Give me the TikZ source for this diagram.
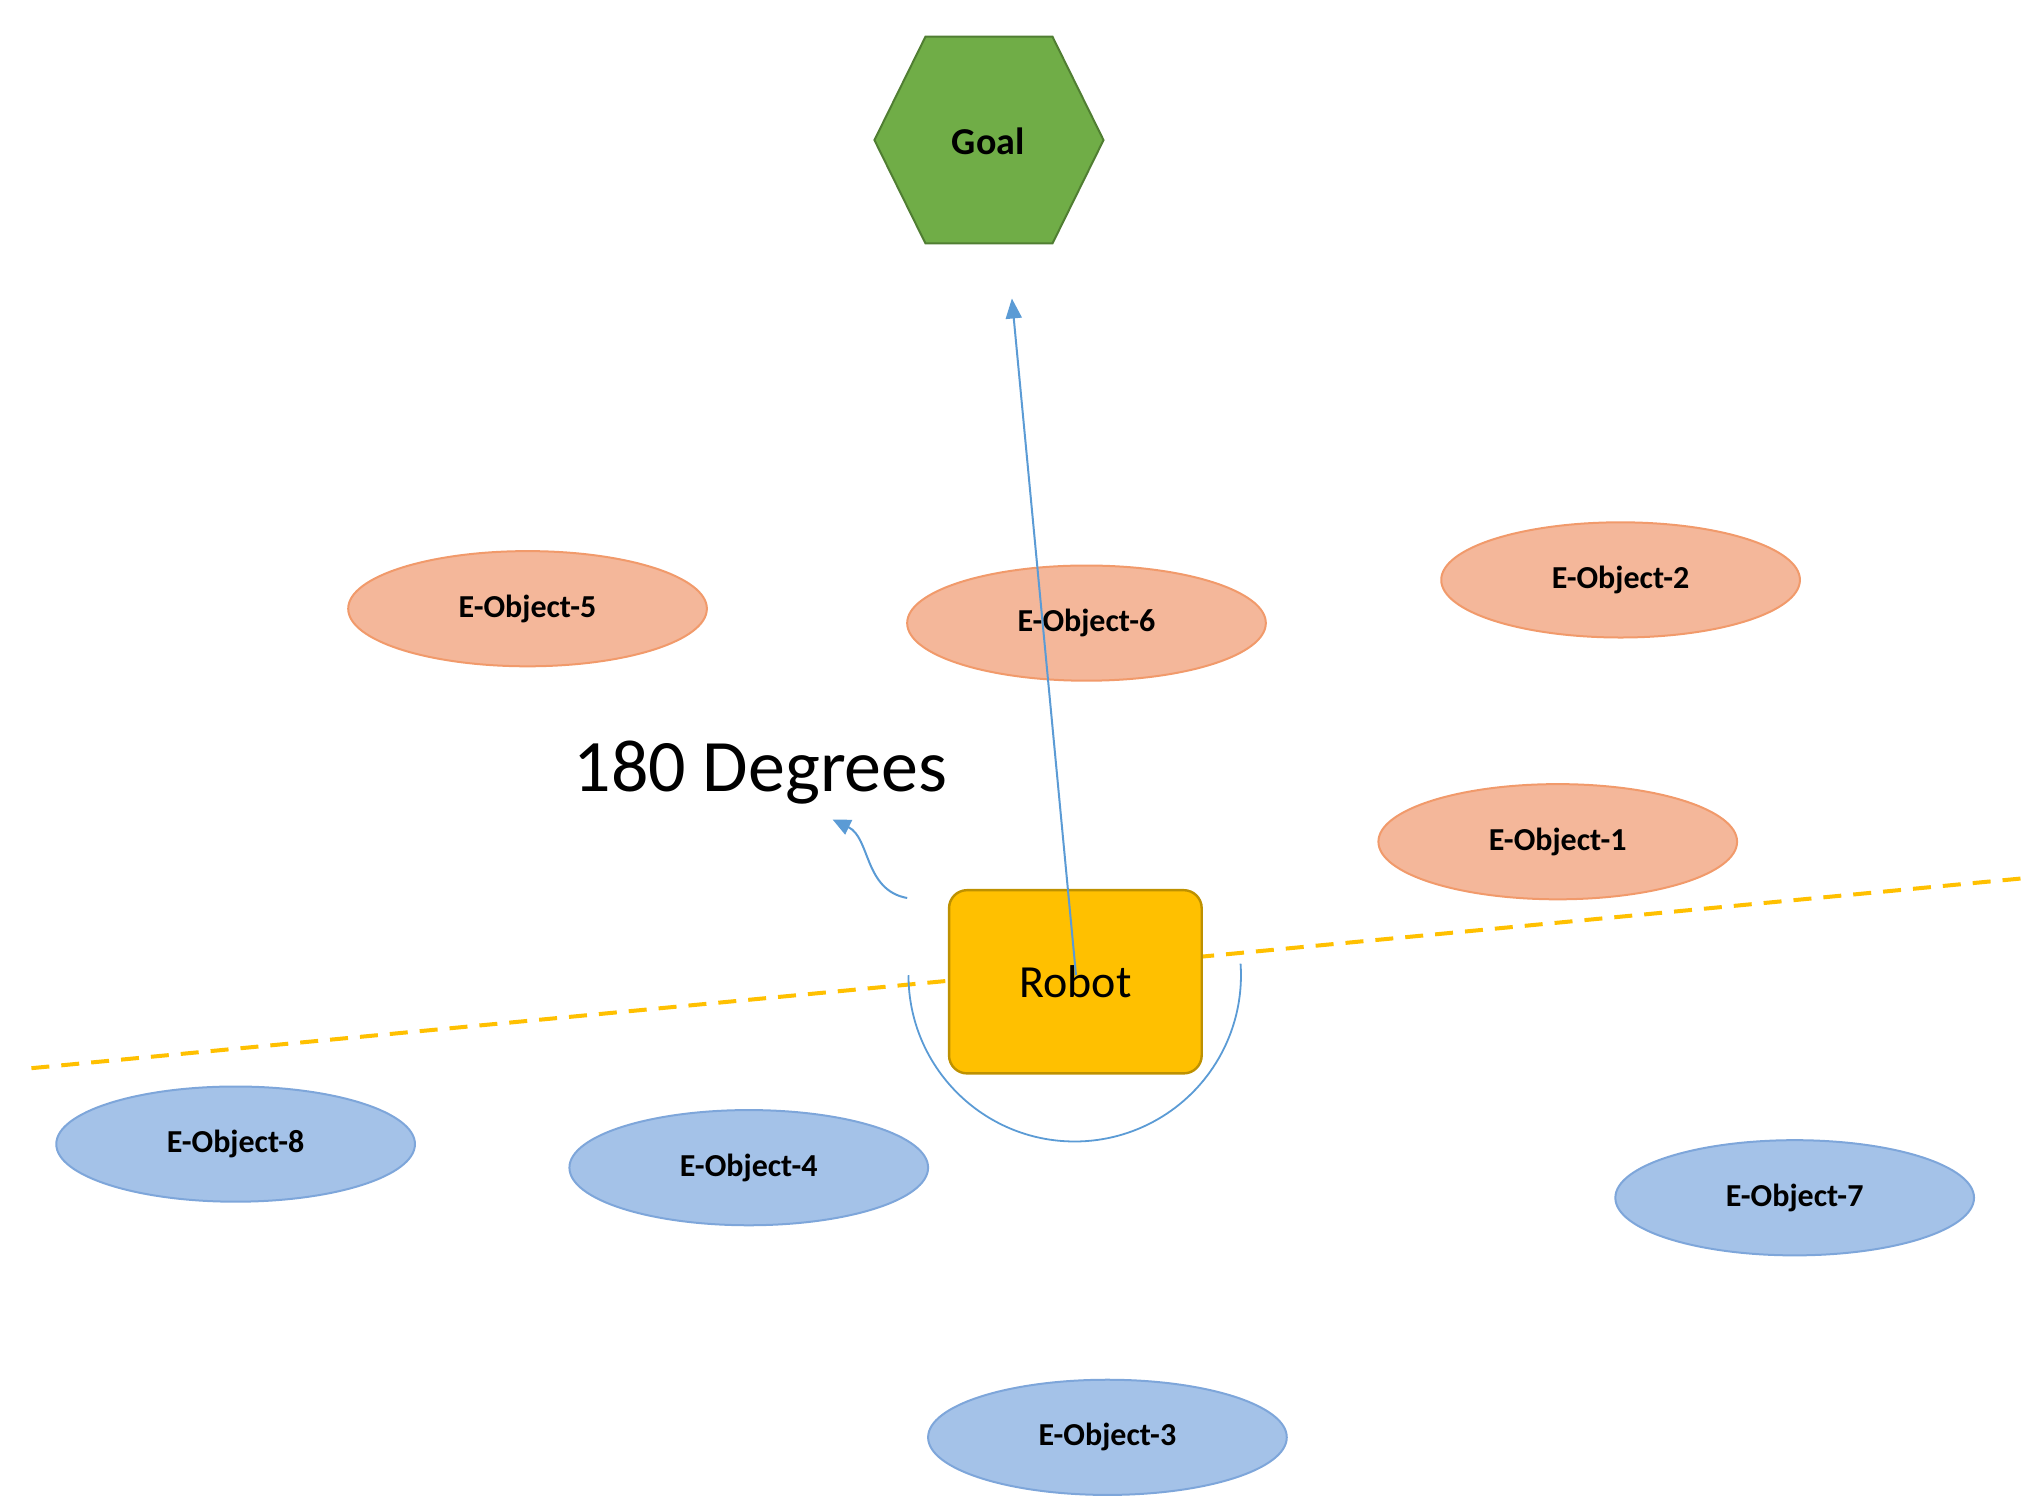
\documentclass[tikz,border=0pt]{standalone}
\usepackage{fontspec}
\setmainfont{Carlito}
\usetikzlibrary{arrows.meta,shapes.geometric}
\definecolor{orfill}{HTML}{F4B79A}
\definecolor{ordraw}{HTML}{F19A6B}
\definecolor{blfill}{HTML}{A4C2E8}
\definecolor{bldraw}{HTML}{7EA6DA}
\definecolor{lineblue}{HTML}{5B9BD5}
\definecolor{gold}{HTML}{FFC000}
\tikzset{
 eobj/.style={ellipse, minimum width=274*0.6545pt, minimum height=88*0.6545pt, line width=1pt, font=\fontsize{16}{18}\selectfont\bfseries, inner sep=0pt},
 ored/.style={eobj, fill=orfill, draw=ordraw},
 blu/.style={eobj, fill=blfill, draw=bldraw},
}
\begin{document}
\begin{tikzpicture}[x=0.6545pt,y=-0.6545pt]
\useasboundingbox (0,0) rectangle (1550,1147.5);
% dashed line
\coordinate (dl) at (24,816);
\coordinate (dr) at (1545,671);
\draw[gold, line width=2pt, dash pattern=on 9pt off 6pt] (dl) -- (dr);
% goal
\fill[fill={rgb,255:red,112;green,173;blue,71}, draw={rgb,255:red,80;green,126;blue,50}, line width=1pt]
 (707,28) -- (804,28) -- (843,107) -- (804,186) -- (707,186) -- (668,107) -- cycle;
\node[font=\fontsize{19}{22}\selectfont\bfseries] (goal) at (755,108) {Goal};
% ellipses
\node[ored] (e5) at (403,465) {E-Object-5};
\node[ored] (e6) at (830,476) {E-Object-6};
\node[ored] (e2) at (1238,443) {E-Object-2};
\node[ored] (e1) at (1190,643) {E-Object-1};
\node[blu] (e8) at (180,874) {E-Object-8};
\node[blu] (e4) at (572,892) {E-Object-4};
\node[blu] (e7) at (1371,915) {E-Object-7};
\node[blu] (e3) at (846,1098) {E-Object-3};
% arc
\draw[lineblue, line width=0.9pt] (694,745) arc[start angle=180, end angle=-4, radius=127];
% robot
\node[draw={rgb,255:red,190;green,145;blue,0}, fill=gold, line width=1.2pt, rounded corners=9pt,
 minimum width=193*0.6545pt, minimum height=140*0.6545pt, font=\fontsize{23}{26}\selectfont] (robot) at (821.5,750) {Robot};
% arrow to goal
\coordinate (as) at (822,745);
\coordinate (at) at (773,228);
\draw[lineblue, line width=1pt, -{Triangle[length=10pt,width=8pt]}] (as) -- (at);
% small curved arrow
\coordinate (cs) at (693,686);
\coordinate (ct) at (636,626);
\draw[lineblue, line width=1pt, -{Triangle[length=9pt,width=8pt]}] (cs) .. controls (660,680) and (665,640) .. (ct);
\node[anchor=center, font=\fontsize{37}{40}\selectfont] (deg) at (581,590) {180 Degrees};
\end{tikzpicture}
\end{document}
